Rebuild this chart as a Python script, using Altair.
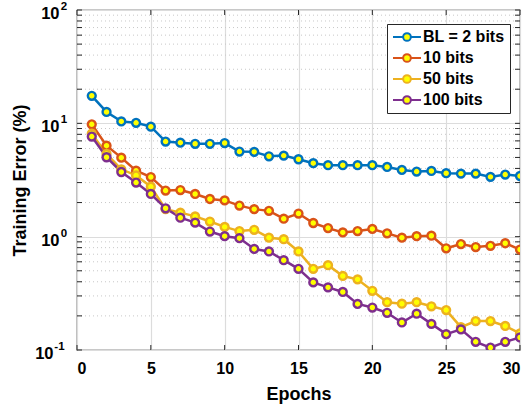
import altair as alt
import pandas as pd

epochs = list(range(1, 31))
series_names = ["BL = 2 bits", "10 bits", "50 bits", "100 bits"]
bl2 = [17.5, 12.6, 10.4, 10.1, 9.35, 6.9, 6.75, 6.6, 6.6, 6.7, 5.63, 5.6, 5.12, 5.19, 4.82,
       4.45, 4.27, 4.27, 4.27, 4.27, 4.12, 3.88, 3.75, 3.80, 3.63, 3.60, 3.60, 3.37, 3.53, 3.43]
b10 = [9.8, 6.35, 4.98, 3.82, 3.36, 2.55, 2.58, 2.38, 2.15, 2.09, 1.88, 1.75, 1.69, 1.44, 1.60,
       1.32, 1.19, 1.09, 1.12, 1.17, 1.07, 0.98, 1.01, 1.02, 0.79, 0.86, 0.81, 0.83, 0.875, 0.77]
b50 = [8.1, 5.37, 3.93, 3.47, 2.76, 1.75, 1.63, 1.51, 1.36, 1.22, 1.12, 1.15, 0.98, 0.95, 0.74,
       0.52, 0.56, 0.45, 0.42, 0.333, 0.264, 0.256, 0.264, 0.243, 0.225, 0.159, 0.18, 0.18, 0.163, 0.14]
b100 = [7.64, 5.02, 3.72, 3.0, 2.38, 1.78, 1.47, 1.33, 1.11, 1.01, 0.97, 0.78, 0.74, 0.62, 0.52,
        0.395, 0.357, 0.325, 0.255, 0.237, 0.213, 0.175, 0.209, 0.17, 0.138, 0.152, 0.118, 0.105, 0.118, 0.129]
colors = ["#0072BD", "#D95319", "#EDB120", "#7E2F8E"]

x_ticks = [0, 5, 10, 15, 20, 25, 30]
y_major = [0.1, 1, 10, 100]
y_exponents = ["-1", "0", "1", "2"]
y_minor = [m * d for d in (0.1, 1, 10) for m in range(2, 10)]

rows = []
for name, vals in zip(series_names, [bl2, b10, b50, b100]):
    for e, v in zip(epochs, vals):
        rows.append({"Epoch": e, "Error": v, "Series": name})
df = pd.DataFrame(rows)

FONT = "Liberation Sans"
W, H = 443, 340

xscale = alt.Scale(domain=[0, 30], nice=False, zero=False)
yscale = alt.Scale(type="log", domain=[0.1, 100], nice=False)

X = alt.X("Epoch:Q", scale=xscale,
          axis=alt.Axis(values=x_ticks, title="Epochs", grid=True, ticks=False, domain=False,
                        labelPadding=10, titlePadding=9, format="d"))
Y = alt.Y("Error:Q", scale=yscale,
          axis=alt.Axis(values=y_major, title="Training Error (%)", grid=True, ticks=False, domain=False,
                        labels=False, titlePadding=48))

minor_df = pd.DataFrame({"Error": y_minor})
yt_df = pd.DataFrame({"Error": y_minor + y_major})
xt_df = pd.DataFrame({"Epoch": x_ticks})
lab_df = pd.DataFrame({"Error": y_major, "Exp": y_exponents})

minor_grid = alt.Chart(minor_df).mark_rule(color="#c8c8c8", strokeDash=[1, 3], strokeWidth=1).encode(
    y=Y, x=alt.value(0), x2=alt.value(W))

ytick_l = alt.Chart(yt_df).mark_rule(color="#262626", strokeWidth=1).encode(
    y=Y, x=alt.value(0), x2=alt.value(5))
ytick_r = alt.Chart(yt_df).mark_rule(color="#262626", strokeWidth=1).encode(
    y=Y, x=alt.value(W - 5), x2=alt.value(W))
xtick_b = alt.Chart(xt_df).mark_rule(color="#262626", strokeWidth=1).encode(
    x=X, y=alt.value(H - 5), y2=alt.value(H))
xtick_t = alt.Chart(xt_df).mark_rule(color="#262626", strokeWidth=1).encode(
    x=X, y=alt.value(0), y2=alt.value(5))

# y tick labels as 10 with superscript exponent
base_pos = alt.Chart(lab_df).transform_filter("datum.Error >= 1").mark_text(
    text="10", align="right", baseline="middle", dy=4, font=FONT, fontSize=16.5, fontWeight="bold",
    color="#000000").encode(y=Y, x=alt.value(-17.5))
exp_pos = alt.Chart(lab_df).transform_filter("datum.Error >= 1").mark_text(
    align="left", baseline="middle", dy=-3, font=FONT, fontSize=11.5, fontWeight="bold",
    color="#000000").encode(y=Y, x=alt.value(-16.3), text="Exp:N")
base_neg = alt.Chart(lab_df).transform_filter("datum.Error < 1").mark_text(
    text="10", align="right", baseline="middle", dy=4, font=FONT, fontSize=16.5, fontWeight="bold",
    color="#000000").encode(y=Y, x=alt.value(-23.5))
exp_neg = alt.Chart(lab_df).transform_filter("datum.Error < 1").mark_text(
    align="left", baseline="middle", dy=-3, font=FONT, fontSize=11.5, fontWeight="bold",
    color="#000000").encode(y=Y, x=alt.value(-22.7), text="Exp:N")

stroke_enc = alt.Stroke("Series:N", sort=series_names,
                        scale=alt.Scale(domain=series_names, range=colors),
                        legend=alt.Legend(title=None, orient="none", legendX=310, legendY=14,
                                          symbolType="M-2,0H-0.55M0.55,0H2M-0.55,0A0.55,0.55 0 1,0 0.55,0A0.55,0.55 0 1,0 -0.55,0Z",
                                          symbolSize=196, symbolStrokeWidth=2, symbolFillColor="#FFFF00",
                                          symbolOffset=7,
                                          labelFontSize=16, labelFont=FONT, labelFontWeight="bold",
                                          labelColor="#000000", labelOffset=8, rowPadding=5,
                                          padding=5, strokeColor="#262626", fillColor="white"))

lines = alt.Chart(df).mark_line(strokeWidth=2.5, clip=True).encode(
    x=X, y=Y, stroke=stroke_enc, order="Epoch:Q")
points = alt.Chart(df).mark_point(filled=True, fill="#FFFF00", strokeWidth=2.4, size=62, opacity=1, clip=True).encode(
    x=X, y=Y, stroke=stroke_enc)

chart = alt.layer(minor_grid, ytick_l, ytick_r, xtick_b, xtick_t,
                  base_pos, exp_pos, base_neg, exp_neg, lines, points).properties(
    width=W, height=H,
    background="white",
    autosize=alt.AutoSizeParams(type="none"),
    padding={"left": 77, "top": 10, "right": 11, "bottom": 58},
).configure_view(stroke="#262626", strokeWidth=1.2).configure_axis(
    labelFont=FONT, labelFontSize=16, labelFontWeight="bold", labelColor="#000000",
    titleFont=FONT, titleFontSize=18, titleFontWeight="bold", titleColor="#000000",
    gridColor="#dcdcdc", gridWidth=1.2,
)

chart.save("out.html", embed_options={"renderer": "svg", "actions": False})
